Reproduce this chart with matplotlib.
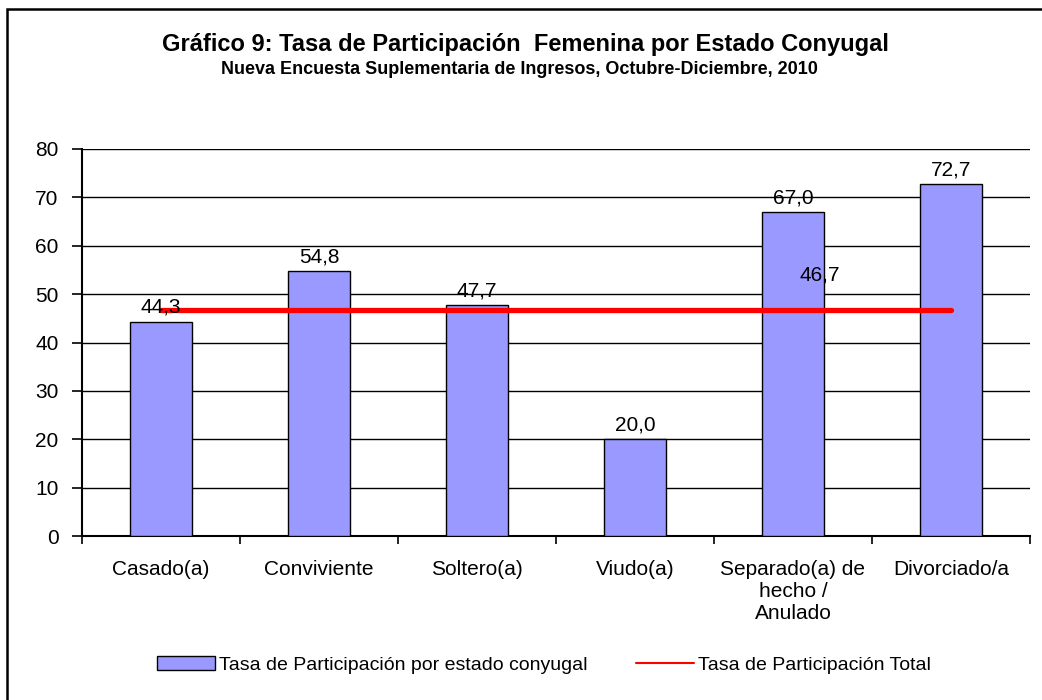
import numpy as np
import matplotlib
matplotlib.use("Agg")
import matplotlib.pyplot as plt
from matplotlib.patches import Rectangle

categories = ["Casado(a)", "Conviviente", "Soltero(a)", "Viudo(a)",
              "Separado(a) de\nhecho /\nAnulado", "Divorciado/a"]
tasa = [44.3, 54.8, 47.7, 20.0, 67.0, 72.7]
tasa_total = [46.7] * 6
yticks = [0, 10, 20, 30, 40, 50, 60, 70, 80]

plt.rcParams['font.family'] = ['Liberation Sans', 'DejaVu Sans']

fig = plt.figure(figsize=(10.42, 7.0), dpi=100)
W, H = 1042, 700

# outer frame
fig.patches.append(Rectangle((7 / W, -0.1), 1.2, 1 - 9 / H + 0.1,
                             transform=fig.transFigure, fill=False,
                             edgecolor='black', linewidth=1.8))

ax = fig.add_axes([82 / W, 1 - 536 / H, 948 / W, (536 - 149) / H])
x = np.arange(len(categories))
bars = ax.bar(x, tasa, width=0.39, color='#9999FF', edgecolor='black',
              linewidth=1.0, zorder=3)
line, = ax.plot(x, tasa_total, color='#FF0000', linewidth=3.8,
                solid_capstyle='round', zorder=4)

for xi, v in zip(x, tasa):
    ax.text(xi, v + 1.0, f"{v:.1f}".replace('.', ','), ha='center', va='bottom',
            fontsize=15, zorder=5)
ax.text(4.17, 54, f"{tasa_total[4]:.1f}".replace('.', ','), ha='center',
        va='center', fontsize=15, zorder=5)

ax.set_xlim(-0.5, len(categories) - 0.5)
ax.set_ylim(0, 80)
ax.set_yticks(yticks)
ax.set_xticks(np.arange(-0.5, len(categories), 1.0), minor=False)
ax.set_xticklabels([])
ax.set_xticks(x, minor=True)
ax.set_xticklabels(categories, minor=True, fontsize=15, linespacing=1.2)
ax.tick_params(axis='x', which='minor', length=0, pad=17)
ax.tick_params(axis='x', which='major', length=6, width=1.2, direction='out')
ax.tick_params(axis='y', length=7, width=1.2, labelsize=15, pad=10)
ax.grid(axis='y', color='black', linewidth=1.0, zorder=0)
for s in ['top', 'right']:
    ax.spines[s].set_visible(False)
ax.spines['left'].set_linewidth(1.5)
ax.spines['bottom'].set_linewidth(1.5)

fig.text(525 / W, 1 - 44 / H, "Gráfico 9: Tasa de Participación  Femenina por Estado Conyugal",
         ha='center', va='center', fontsize=17, fontweight='bold')
fig.text(519 / W, 1 - 69 / H, "Nueva Encuesta Suplementaria de Ingresos, Octubre-Diciembre, 2010",
         ha='center', va='center', fontsize=13, fontweight='bold')

leg = fig.legend([bars, line],
                 ['Tasa de Participación por estado conyugal', 'Tasa de Participación Total'],
                 loc='center', bbox_to_anchor=(544 / W, 1 - 665 / H),
                 ncol=2, frameon=False, fontsize=14, handlelength=3.0,
                 handleheight=0.7, columnspacing=2.5, handletextpad=0.2)
for l in leg.get_lines():
    l.set_linewidth(1.5)

fig.savefig("out.png", dpi=100)
